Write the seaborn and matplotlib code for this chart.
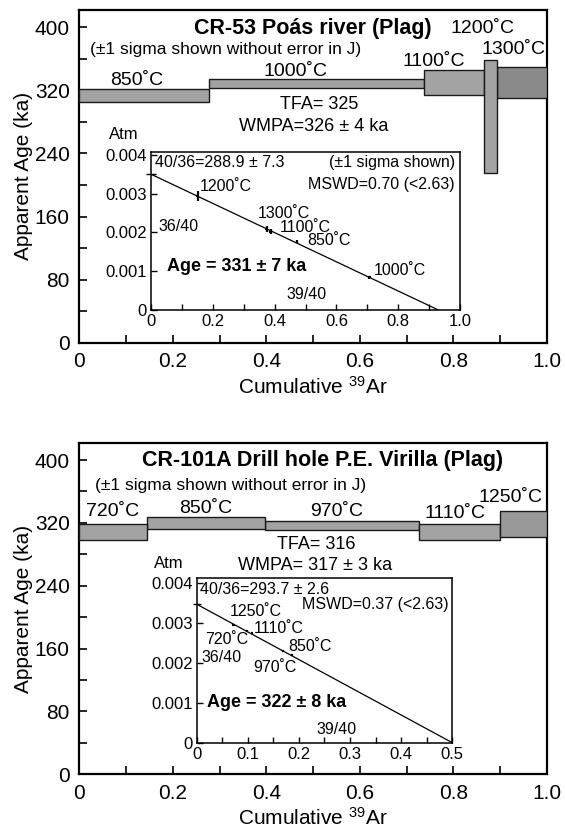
import matplotlib
matplotlib.use("Agg")
import numpy as np
import matplotlib.pyplot as plt
import seaborn as sns
from matplotlib.ticker import MultipleLocator, FixedLocator, FixedFormatter

# ---------------- data: CR-53 Poas river (Plag) ----------------
top_steps = ["850˚C", "1000˚C", "1100˚C", "1200˚C", "1300˚C"]
top_cum39 = [0.0, 0.277, 0.736, 0.865, 0.893, 1.0]     # cumulative 39Ar edges
top_age = [313.5, 329.0, 330.0, 287.0, 330.0]          # ka
top_err = [8.7, 5.5, 16.0, 72.0, 20.0]                 # 1 sigma, ka
top_iso_x = [0.474, 0.707, 0.388, 0.151, 0.374]        # 39/40
top_iso_y = [0.00176, 0.00084, 0.00202, 0.00294, 0.00209]  # 36/40
top_iso_xerr = [0.003, 0.005, 0.005, 0.004, 0.004]
top_iso_yerr = [0.00004, 0.00003, 0.00007, 0.00013, 0.00008]
top_intercepts = [0.00350, 0.93]                       # 36/40 at 0, 39/40 at 0
top_title = "CR-53 Poás river (Plag)"
top_tfa = "TFA= 325"
top_wmpa = "WMPA=326 ± 4 ka"
top_ratio = "40/36=288.9 ± 7.3"
top_mswd = "MSWD=0.70 (<2.63)"
top_iso_age = "Age = 331 ± 7 ka"

# ---------------- data: CR-101A Drill hole P.E. Virilla (Plag) ----------------
bot_steps = ["720˚C", "850˚C", "970˚C", "1110˚C", "1250˚C"]
bot_cum39 = [0.0, 0.145, 0.396, 0.726, 0.899, 1.0]
bot_age = [308.4, 320.0, 316.6, 308.4, 318.3]
bot_err = [10.6, 7.3, 5.3, 10.6, 16.3]
bot_iso_x = [0.099, 0.186, 0.168, 0.108, 0.072]
bot_iso_y = [0.00280, 0.00219, 0.00230, 0.00274, 0.00296]
bot_iso_xerr = [0.002, 0.002, 0.002, 0.002, 0.002]
bot_iso_yerr = [0.00002, 0.00002, 0.00002, 0.00002, 0.00002]
bot_intercepts = [0.00347, 0.5]
bot_title = "CR-101A Drill hole P.E. Virilla (Plag)"
bot_tfa = "TFA= 316"
bot_wmpa = "WMPA= 317 ± 3 ka"
bot_ratio = "40/36=293.7 ± 2.6"
bot_mswd = "MSWD=0.37 (<2.63)"
bot_iso_age = "Age = 322 ± 8 ka"

sns.set_theme(style="ticks")
plt.rcParams["font.family"] = ["Liberation Sans", "DejaVu Sans"]
plt.rcParams["mathtext.fontset"] = "custom"
plt.rcParams["mathtext.rm"] = "Liberation Sans"
plt.rcParams["mathtext.it"] = "Liberation Sans:italic"
plt.rcParams["axes.edgecolor"] = "black"
plt.rcParams["axes.labelcolor"] = "black"
plt.rcParams["text.color"] = "black"
plt.rcParams["xtick.color"] = "black"
plt.rcParams["ytick.color"] = "black"

fig = plt.figure(figsize=(5.65, 8.3), dpi=100)


def spectrum(ax, edges, age, err, fills):
    edges = np.array(edges)
    # wider error boxes drawn last so their outline stays on top
    order = np.argsort(err)
    for rank, i in enumerate(order):
        ax.bar(edges[i], 2 * err[i], width=edges[i + 1] - edges[i],
               bottom=age[i] - err[i], align="edge", color=fills[i],
               edgecolor="#1a1a1a", linewidth=1.0, zorder=2 + rank)
    ax.set_xlim(0, 1.0)
    ax.set_ylim(0, 422)
    ax.xaxis.set_major_locator(FixedLocator([0, 0.2, 0.4, 0.6, 0.8, 1.0]))
    ax.xaxis.set_major_formatter(FixedFormatter(["0", "0.2", "0.4", "0.6", "0.8", "1.0"]))
    ax.xaxis.set_minor_locator(MultipleLocator(0.1))
    ax.yaxis.set_major_locator(FixedLocator([0, 80, 160, 240, 320, 400]))
    ax.yaxis.set_major_formatter(FixedFormatter(["0", "80", "160", "240", "320", "400"]))
    ax.yaxis.set_minor_locator(MultipleLocator(40))
    ax.tick_params(which="both", direction="in", length=6, width=1.2,
                   labelsize=15, pad=7, top=False, right=False)
    for s in ax.spines.values():
        s.set_linewidth(1.6)
    ax.set_ylabel("Apparent Age (ka)", fontsize=15, labelpad=1)
    ax.set_xlabel("Cumulative $^{39}$Ar", fontsize=15, labelpad=3)


def isochron(axi, x, y, xerr, yerr, intercepts, xmax, ymax, xstep):
    sns.lineplot(x=[0, intercepts[1]], y=[intercepts[0], 0], ax=axi,
                 color="black", linewidth=0.9, zorder=3)
    axi.errorbar(x, y, xerr=xerr, yerr=yerr, fmt="none", ecolor="black",
                 elinewidth=1.6, capsize=0, zorder=4)
    axi.errorbar([0], [intercepts[0]], xerr=[xmax * 0.015], fmt="none",
                 ecolor="black", elinewidth=1.0, capsize=0, clip_on=False, zorder=4)
    axi.set_xlim(0, xmax)
    axi.set_ylim(0, ymax)
    nmaj = int(round(xmax / (2 * xstep)))
    xt = [i * 2 * xstep for i in range(nmaj + 1)]
    axi.xaxis.set_major_locator(FixedLocator(xt))
    axi.xaxis.set_major_formatter(FixedFormatter(["0"] + ["%.1f" % v for v in xt[1:]]))
    axi.xaxis.set_minor_locator(MultipleLocator(xstep))
    axi.yaxis.set_major_locator(FixedLocator([0, 0.001, 0.002, 0.003, 0.004]))
    axi.yaxis.set_major_formatter(FixedFormatter(["0", "0.001", "0.002", "0.003", "0.004"]))
    axi.tick_params(which="both", direction="in", length=4, width=1.0,
                    labelsize=12, pad=3, top=False, right=False)
    for s in axi.spines.values():
        s.set_linewidth(1.1)
    axi.set_xlabel("")
    axi.set_ylabel("")
    axi.set_facecolor("white")


# ================= top panel =================
ax1 = fig.add_axes([0.1407, 0.5871, 0.8274, 0.4009])
spectrum(ax1, top_cum39, top_age, top_err,
         ["#a3a3a3", "#a3a3a3", "#a3a3a3", "#a3a3a3", "#8a8a8a"])
ax1.text(0.5, 399, top_title, ha="center", va="center", fontsize=15.5, fontweight="bold")
ax1.text(0.0225, 372, "(±1 sigma shown without error in J)", ha="left", va="center", fontsize=12.5)
top_lbl_pos = [(0.123, 332), (0.462, 344), (0.758, 357), (0.862, 398), (0.928, 372)]
for lab, (lx, ly) in zip(top_steps, top_lbl_pos):
    ax1.text(lx, ly, lab, ha="center", va="center", fontsize=14, zorder=10)
ax1.text(0.512, 302, top_tfa, ha="center", va="center", fontsize=13)
ax1.text(0.5005, 274, top_wmpa, ha="center", va="center", fontsize=13)
ax1.text(0.095, 264, "Atm", ha="center", va="center", fontsize=12)

ai1 = fig.add_axes([0.2673, 0.6265, 0.5469, 0.1907])
isochron(ai1, top_iso_x, top_iso_y, top_iso_xerr, top_iso_yerr, top_intercepts,
         1.0, 0.00408, 0.1)
ai1.text(0.013, 0.00379, top_ratio, ha="left", va="center", fontsize=11.5)
ai1.text(0.984, 0.00379, "(±1 sigma shown)", ha="right", va="center", fontsize=11.5)
ai1.text(0.984, 0.00323, top_mswd, ha="right", va="center", fontsize=11.5)
top_iso_lbl = [(0.504, 0.00178), (0.7195, 0.00103), (0.417, 0.00213),
               (0.159, 0.00318), (0.347, 0.00250)]
for lab, (lx, ly) in zip(top_steps, top_iso_lbl):
    ai1.text(lx, ly, lab, ha="left", va="center", fontsize=11.5)
ai1.text(0.0237, 0.00215, "36/40", ha="left", va="center", fontsize=11.5)
ai1.text(0.053, 0.00112, top_iso_age, ha="left", va="center", fontsize=13, fontweight="bold")
ai1.text(0.439, 0.00039, "39/40", ha="left", va="center", fontsize=11.5)

# ================= bottom panel =================
ax2 = fig.add_axes([0.1407, 0.0671, 0.8274, 0.3995])
spectrum(ax2, bot_cum39, bot_age, bot_err,
         ["#a3a3a3", "#a3a3a3", "#a3a3a3", "#a3a3a3", "#999999"])
ax2.text(0.52, 400, bot_title, ha="center", va="center", fontsize=15.5, fontweight="bold")
ax2.text(0.034, 368, "(±1 sigma shown without error in J)", ha="left", va="center", fontsize=12.5)
bot_lbl_pos = [(0.071, 334), (0.2706, 338), (0.551, 334.6), (0.804, 331.6), (0.922, 352)]
for lab, (lx, ly) in zip(bot_steps, bot_lbl_pos):
    ax2.text(lx, ly, lab, ha="center", va="center", fontsize=14, zorder=10)
ax2.text(0.506, 292, bot_tfa, ha="center", va="center", fontsize=13)
ax2.text(0.504, 266, bot_wmpa, ha="center", va="center", fontsize=13)
ax2.text(0.19, 268, "Atm", ha="center", va="center", fontsize=12)

ai2 = fig.add_axes([0.3481, 0.1052, 0.4524, 0.1981])
isochron(ai2, bot_iso_x, bot_iso_y, bot_iso_xerr, bot_iso_yerr, bot_intercepts,
         0.5, 0.00412, 0.05)
ai2.text(0.0065, 0.00385, bot_ratio, ha="left", va="center", fontsize=11.5)
ai2.text(0.4935, 0.00346, bot_mswd, ha="right", va="center", fontsize=11.5)
bot_iso_lbl = [(0.0163, 0.00258), (0.18, 0.00241), (0.111, 0.00189),
               (0.111, 0.00287), (0.065, 0.00329)]
for lab, (lx, ly) in zip(bot_steps, bot_iso_lbl):
    ai2.text(lx, ly, lab, ha="left", va="center", fontsize=11.5)
ai2.text(0.0098, 0.00214, "36/40", ha="left", va="center", fontsize=11.5)
ai2.text(0.0196, 0.00100, bot_iso_age, ha="left", va="center", fontsize=13, fontweight="bold")
ai2.text(0.235, 0.00032, "39/40", ha="left", va="center", fontsize=11.5)

fig.savefig("out.png", dpi=100, facecolor="white")
